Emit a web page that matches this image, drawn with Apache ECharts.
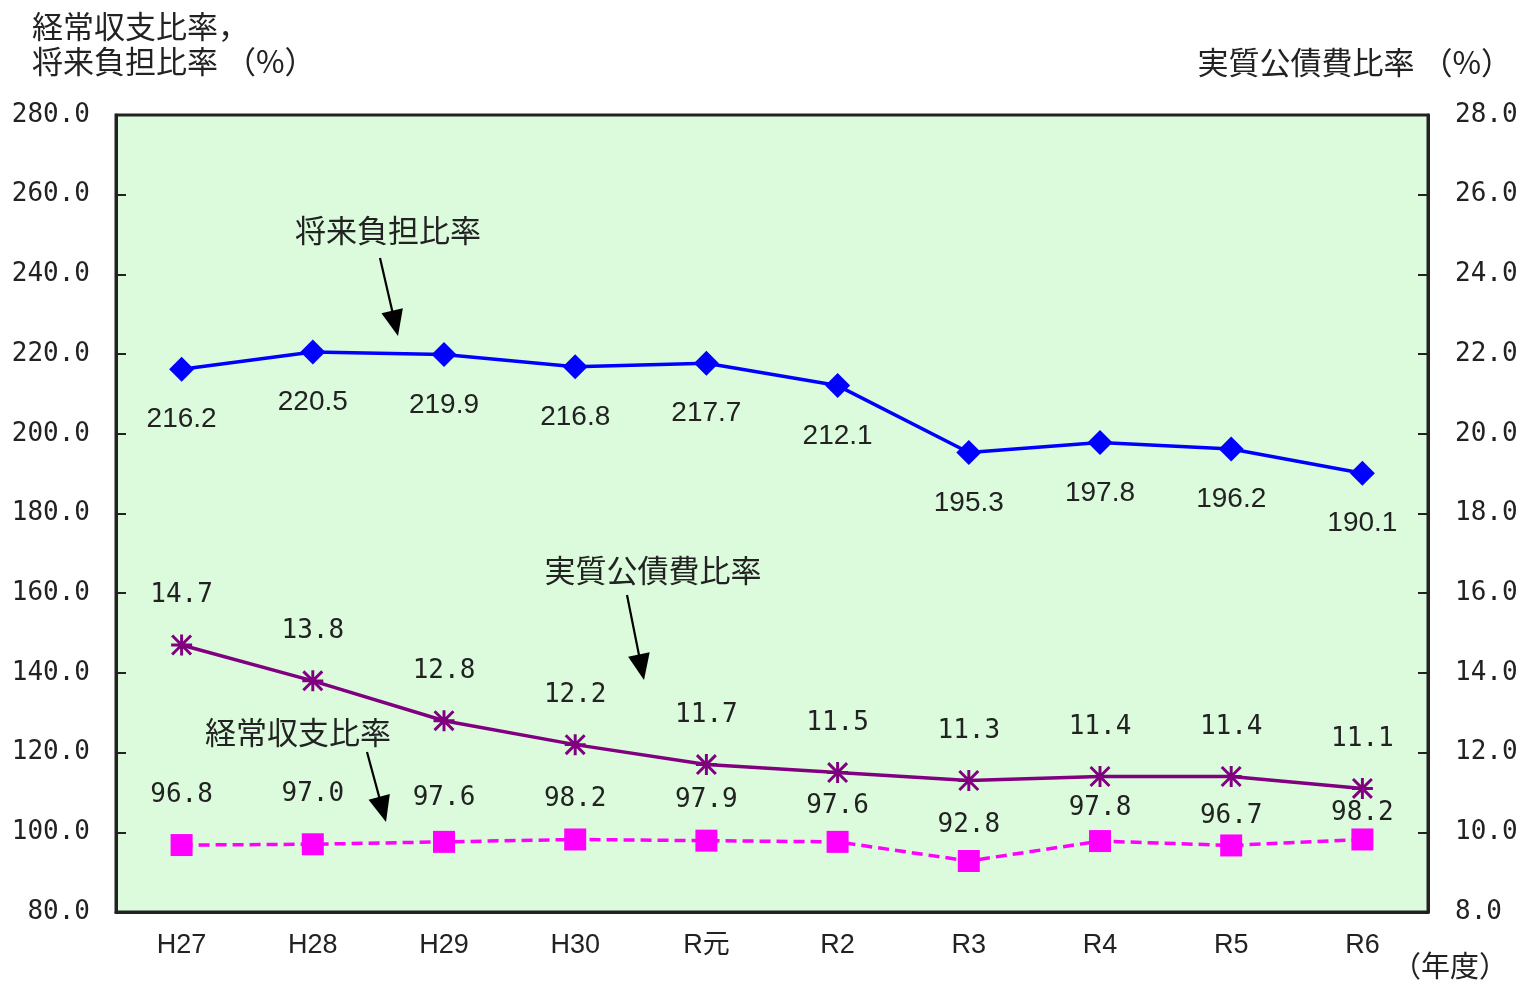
<!DOCTYPE html>
<html>
<head>
<meta charset="utf-8">
<script src="https://cdn.jsdelivr.net/npm/echarts@6/dist/echarts.min.js"></script>
<style>
  html, body { margin: 0; padding: 0; background: #ffffff; }
  #chart { width: 1525px; height: 982px; }
</style>
</head>
<body>
<div id="chart"></div>
<script>
// Fiscal years (年度)
const years = ['H27', 'H28', 'H29', 'H30', 'R元', 'R2', 'R3', 'R4', 'R5', 'R6'];

// 将来負担比率 (%), left axis
const futureBurden = [216.2, 220.5, 219.9, 216.8, 217.7, 212.1, 195.3, 197.8, 196.2, 190.1];

// 実質公債費比率 (%), right axis
const realDebtService = [14.7, 13.8, 12.8, 12.2, 11.7, 11.5, 11.3, 11.4, 11.4, 11.1];

// 経常収支比率 (%), left axis
const currentBalance = [96.8, 97.0, 97.6, 98.2, 97.9, 97.6, 92.8, 97.8, 96.7, 98.2];

// Axis tick values
const leftTicks = [80, 100, 120, 140, 160, 180, 200, 220, 240, 260, 280];
const rightTicks = [8, 10, 12, 14, 16, 18, 20, 22, 24, 26, 28];

// Vertical gap (px) between each 経常収支比率 marker and its value label
const balanceLabelGap = [26, 26, 20, 16, 16, 12, 12, 9, 5, 2];

const MONO = "'DejaVu Sans Mono', 'Liberation Mono', monospace";
const CJK = "'Noto Sans CJK JP', 'Noto Sans', sans-serif";
const INK = '#222222';

// Asterisk marker made from four bars
const asterisk = 'path://M8.6 0H11.4V20H8.6Z M0 8.6H20V11.4H0Z M2 0L20 18L18 20L0 2Z M18 0L20 2L2 20L0 18Z';

const grid = { left: 116, right: 97, top: 115, bottom: 70 };

function arrow(x1, y1, x2, y2) {
  const dx = x2 - x1, dy = y2 - y1;
  const len = Math.hypot(dx, dy);
  const ux = dx / len, uy = dy / len;
  const headLen = 26, half = 11;
  const bx = x2 - ux * headLen, by = y2 - uy * headLen;
  const px = -uy * half, py = ux * half;
  return [
    { type: 'line', silent: true,
      shape: { x1: x1, y1: y1, x2: bx + ux * 2, y2: by + uy * 2 },
      style: { stroke: '#000', lineWidth: 2.2 } },
    { type: 'polygon', silent: true,
      shape: { points: [[x2, y2], [bx + px, by + py], [bx - px, by - py]] },
      style: { fill: '#000' } }
  ];
}

function txt(text, x, y, align, size, vAlign) {
  return {
    type: 'text', silent: true, x: x, y: y,
    style: {
      text: text, fill: INK, fontSize: size, fontFamily: CJK,
      textAlign: align, textVerticalAlign: vAlign || 'middle'
    }
  };
}

const chart = echarts.init(document.getElementById('chart'), null, { renderer: 'canvas' });

const option = {
  backgroundColor: '#ffffff',
  animation: false,
  grid: {
    left: grid.left, right: grid.right, top: grid.top, bottom: grid.bottom,
    show: true, backgroundColor: '#dbfbdc', borderColor: INK, borderWidth: 3
  },
  xAxis: {
    type: 'category',
    data: years,
    boundaryGap: true,
    axisLine: { lineStyle: { color: INK, width: 3 } },
    axisTick: { inside: true, length: 9, lineStyle: { color: INK, width: 2 } },
    axisLabel: {
      margin: 20, color: INK, fontSize: 27,
      fontFamily: "'Liberation Sans', 'Noto Sans CJK JP', sans-serif"
    },
    splitLine: { show: false }
  },
  yAxis: [
    {
      type: 'value',
      min: leftTicks[0], max: leftTicks[leftTicks.length - 1],
      interval: leftTicks[1] - leftTicks[0],
      axisLine: { show: true, lineStyle: { color: INK, width: 3 } },
      axisTick: { show: true, inside: true, length: 10, lineStyle: { color: INK, width: 2 } },
      axisLabel: {
        margin: 26, color: INK, fontSize: 26, fontFamily: MONO,
        formatter: v => v.toFixed(1)
      },
      splitLine: { show: false }
    },
    {
      type: 'value',
      position: 'right',
      min: rightTicks[0], max: rightTicks[rightTicks.length - 1],
      interval: rightTicks[1] - rightTicks[0],
      axisLine: { show: true, lineStyle: { color: INK, width: 3 } },
      axisTick: { show: true, inside: true, length: 10, lineStyle: { color: INK, width: 2 } },
      axisLabel: {
        margin: 27, color: INK, fontSize: 26, fontFamily: MONO,
        formatter: v => v.toFixed(1)
      },
      splitLine: { show: false }
    }
  ],
  series: [
    {
      name: '将来負担比率',
      type: 'line',
      yAxisIndex: 0,
      data: futureBurden,
      symbol: 'diamond',
      symbolSize: 25,
      lineStyle: { color: '#0000ff', width: 3.5 },
      itemStyle: { color: '#0000ff' },
      label: {
        show: true, position: 'bottom', distance: 24,
        color: INK, fontSize: 28,
        fontFamily: "'Liberation Sans', Arial, sans-serif",
        formatter: p => p.value.toFixed(1)
      },
      z: 3
    },
    {
      name: '実質公債費比率',
      type: 'line',
      yAxisIndex: 1,
      data: realDebtService,
      symbol: asterisk,
      symbolSize: 21,
      lineStyle: { color: '#800080', width: 3.5 },
      itemStyle: { color: '#800080' },
      label: {
        show: true, position: 'top', distance: 26,
        color: INK, fontSize: 26, fontFamily: MONO,
        formatter: p => p.value.toFixed(1)
      },
      z: 3
    },
    {
      name: '経常収支比率',
      type: 'line',
      yAxisIndex: 0,
      data: currentBalance.map((v, i) => ({
        value: v,
        label: { distance: balanceLabelGap[i] }
      })),
      symbol: 'rect',
      symbolSize: 22,
      lineStyle: { color: '#ff00ff', width: 3.5, type: [11, 6] },
      itemStyle: { color: '#ff00ff' },
      label: {
        show: true, position: 'top',
        color: INK, fontSize: 26, fontFamily: MONO,
        formatter: p => p.value.toFixed(1)
      },
      z: 3
    }
  ],
  graphic: [
    // axis titles
    txt('経常収支比率，', 32, 26, 'left', 31),
    txt('将来負担比率 （%）', 32, 61, 'left', 31),
    txt('実質公債費比率 （%）', 1512, 62, 'right', 31),
    txt('（年度）', 1450, 966, 'center', 29),
    // series annotations
    txt('将来負担比率', 388, 230, 'center', 31),
    ...arrow(380, 258, 398, 336),
    txt('実質公債費比率', 653, 570, 'center', 31),
    ...arrow(627, 595, 644, 680),
    txt('経常収支比率', 298, 732, 'center', 31),
    ...arrow(367, 752, 386, 822)
  ]
};

chart.setOption(option);
</script>
</body>
</html>
